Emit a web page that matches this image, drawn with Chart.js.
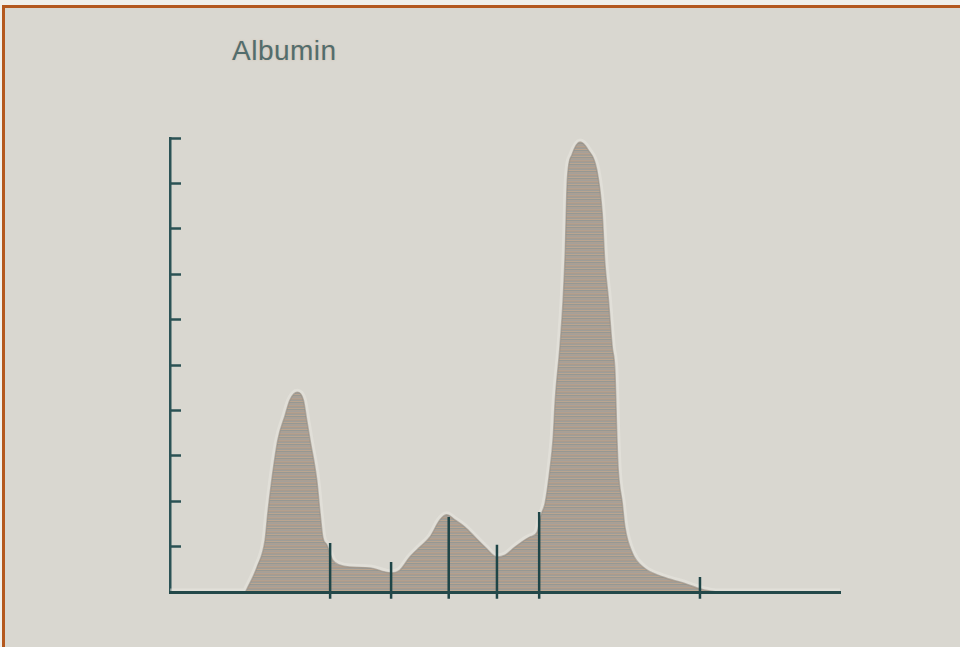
<!DOCTYPE html>
<html>
<head>
<meta charset="utf-8">
<script src="https://cdn.jsdelivr.net/npm/chart.js@4.4.0/dist/chart.umd.min.js"></script>
<style>
  html, body { margin: 0; padding: 0; background: #f1efea; }
  body { width: 960px; height: 647px; position: relative; overflow: hidden; }
  #frame {
    position: absolute; left: 2px; top: 5px; width: 958px; height: 642px;
    background: #d9d7d0; box-sizing: border-box;
    border-left: 3px solid #b4581e; border-top: 3px solid #b4581e;
  }
  #title {
    position: absolute; left: 232px; top: 35px;
    font: 28px "Liberation Sans", Arial, sans-serif; color: #526d6d;
    letter-spacing: 0.5px;
    text-shadow: 0 0 2px rgba(205, 165, 135, 0.6);
  }
  #myChart { position: absolute; left: 0; top: 0; }
</style>
</head>
<body>
<div id="frame"></div>
<div id="title">Albumin</div>
<canvas id="myChart" width="960" height="647"></canvas>
<script>
const titleText = "Albumin";

// migration distance (0-100) and density
const positions = [0, 11.2, 11.6, 13.0, 14.2, 14.6, 15.2, 16.1, 17.2, 17.9, 19.0, 19.9, 20.4, 20.9,
  21.9, 22.4, 22.8, 23.4, 24.3, 25.4, 26.9, 29.9, 32.1, 33.0, 34.3, 35.8, 37.3, 38.8, 40.3, 41.3,
  42.5, 44.0, 45.5, 47.0, 48.8, 50.0, 51.5, 53.0, 53.7, 54.8, 55.4, 56.0, 56.7, 57.2, 57.5, 58.2,
  58.7, 59.0, 59.3, 60.0, 61.2, 62.4, 63.7, 64.5, 64.9, 65.4, 66.0, 66.4, 66.7, 66.9, 67.5, 67.9,
  69.0, 70.6, 73.6, 76.6, 78.7, 80.6, 82.1, 100];
const density = [0, 0, 0.1, 0.55, 1.15, 1.74, 2.47, 3.35, 3.9, 4.23, 4.4, 4.23, 3.79, 3.35,
  2.47, 1.74, 1.21, 1.04, 0.7, 0.59, 0.55, 0.53, 0.44, 0.42, 0.48, 0.77, 0.99, 1.21, 1.59, 1.7,
  1.59, 1.43, 1.21, 0.99, 0.77, 0.81, 0.99, 1.15, 1.21, 1.32, 1.7, 1.96, 2.69, 3.41, 4.23, 5.4,
  6.5, 7.53, 9.07, 9.63, 9.91, 9.74, 9.3, 8.35, 7.25, 6.5, 5.4, 4.89, 3.41, 2.69, 1.96, 1.43,
  0.86, 0.55, 0.33, 0.2, 0.09, 0.02, 0, 0];

// fraction separators
const dividerPositions = [23.9, 33.0, 41.6, 48.8, 55.1, 79.1];
const dividerHeights = [1.08, 0.66, 1.65, 1.04, 1.76, 0.33];
const dividerFoot = -0.15;

const yMin = 0;
const yMax = 10;
const yStep = 1;

document.getElementById("title").textContent = titleText;

const curve = positions.map((x, i) => ({ x: x, y: density[i] }));

const dividers = [];
dividerPositions.forEach((x, i) => {
  dividers.push({ x: x, y: dividerFoot });
  dividers.push({ x: x, y: dividerHeights[i] });
  dividers.push({ x: x, y: null });
});

// striped fill like the scanned densitometer trace
const makeStripes = () => {
  const c = document.createElement("canvas");
  c.width = 4;
  c.height = 7;
  const g = c.getContext("2d");
  const rows = ["#a99b8d", "#9e9d98", "#baa590", "#969893", "#ac9f92", "#a4a09a", "#b4a08e"];
  rows.forEach((col, i) => {
    g.fillStyle = col;
    g.fillRect(0, i, 4, 1);
  });
  return g.createPattern(c, "repeat");
};

const axisColor = "#2b5255";

const ctx = document.getElementById("myChart").getContext("2d");

const chart = new Chart(ctx, {
  type: "line",
  data: {
    datasets: [
      {
        label: "dividers",
        data: dividers,
        borderColor: "#1f4547",
        borderWidth: 2.5,
        pointRadius: 0,
        spanGaps: false,
        fill: false,
        clip: false,
      },
      {
        label: "density",
        data: curve,
        borderColor: "rgba(150, 142, 132, 0.6)",
        borderWidth: 1.5,
        backgroundColor: makeStripes(),
        fill: "origin",
        pointRadius: 0,
        cubicInterpolationMode: "monotone",
      },
      {
        label: "halo",
        data: curve,
        borderColor: "rgba(234, 232, 226, 0.45)",
        borderWidth: 7,
        fill: false,
        pointRadius: 0,
        cubicInterpolationMode: "monotone",
      },
    ],
  },
  options: {
    responsive: false,
    animation: false,
    events: [],
    layout: {
      padding: { left: 170, right: 120, top: 138, bottom: 55 },
    },
    plugins: {
      legend: { display: false },
      tooltip: { enabled: false },
      title: { display: false },
    },
    scales: {
      x: {
        type: "linear",
        min: 0,
        max: 100,
        ticks: { display: false },
        grid: { display: false, drawTicks: false },
        border: { display: true, color: "#234849", width: 3, z: 1 },
        afterFit: (s) => { s.height = 0; },
      },
      y: {
        min: yMin,
        max: yMax,
        ticks: { display: false, stepSize: yStep },
        grid: {
          drawOnChartArea: false,
          drawTicks: true,
          tickLength: -11,
          tickWidth: 2.5,
          tickColor: axisColor,
        },
        border: { display: true, color: axisColor, width: 2.5 },
        afterFit: (s) => { s.width = 0; },
      },
    },
  },
});
</script>
</body>
</html>
